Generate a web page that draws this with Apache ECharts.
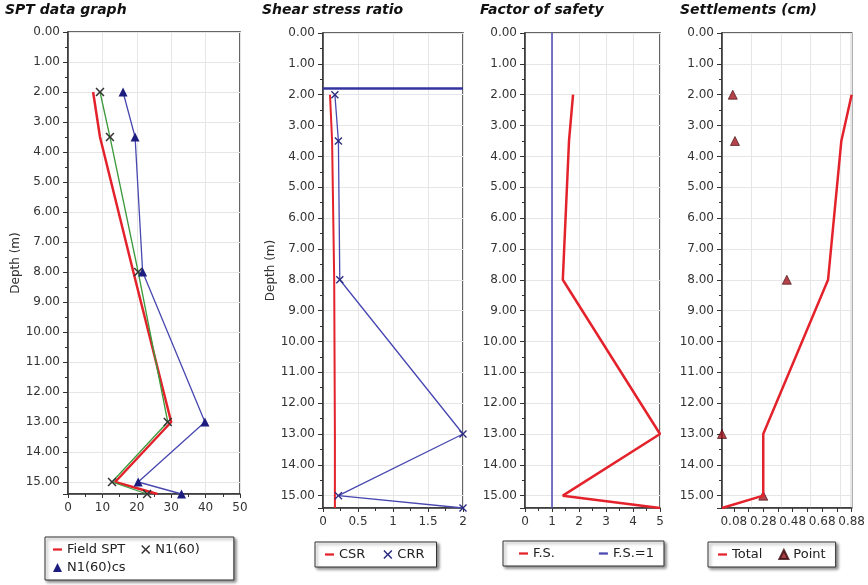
<!DOCTYPE html>
<html>
<head>
<meta charset="utf-8">
<script src="https://cdn.jsdelivr.net/npm/echarts@6/dist/echarts.min.js"></script>
<style>
  html, body { margin: 0; padding: 0; background: #fff; }
  #main { width: 868px; height: 585px; }
</style>
</head>
<body>
<div id="main"></div>
<script>
// depths of the readings (m), last one is the bottom of the profile
const depth = [2, 3.5, 8, 13, 15, 15.4]
const maxDepth = 15.4

// SPT data graph
const fieldSpt = [7.3, 9.3, 19, 30, 13.7, 26]
const n160 = [9.3, 12.2, 20.4, 29, 12.8, 23]
const n160cs = [16, 19.5, 21.7, 39.8, 20.4, 33]

// Shear stress ratio
const csr = [0.1, 0.13, 0.16, 0.17, 0.17, 0.17]
const crr = [0.17, 0.22, 0.24, 2, 0.22, 2]
const waterTable = 1.8

// Factor of safety
const fs = [1.78, 1.63, 1.4, 5, 1.4, 5]
const fsOneDepth = [0, 15.4]
const fsOne = [1, 1]

// Settlements (cm)
const totalSettle = [0.88, 0.81, 0.72, 0.28, 0.28, 0]
const pointDepth = [2, 3.5, 8, 13, 15]
const pointSettle = [0.073, 0.088, 0.44, 0, 0.28]
const settleLabels = [0.08, 0.28, 0.48, 0.68, 0.88]
const settleTicks = [0.08, 0.18, 0.28, 0.38, 0.48, 0.58, 0.68, 0.78, 0.88]

const zip = (xs, ys) => xs.map((x, i) => [x, ys[i]])

const FONT = 'DejaVu Sans'
const RED = '#e3222b'
const BLUE = '#4848b0'
const XMARK = 'path://M0,1.2L1.2,0L5,3.8L8.8,0L10,1.2L6.2,5L10,8.8L8.8,10L5,6.2L1.2,10L0,8.8L3.8,5Z'

const grids = [
  { left: 68, width: 172, top: 32, height: 462 },
  { left: 323, width: 140, top: 33, height: 475 },
  { left: 525, width: 135, top: 33, height: 475 },
  { left: 722, width: 130, top: 33, height: 475 }
].map(g => Object.assign(g, { show: true, borderColor: '#333', borderWidth: 1.5, backgroundColor: '#fff' }))

function yAxis (i, name) {
  return {
    gridIndex: i, type: 'value', inverse: true, min: 0, max: maxDepth, interval: 1,
    axisLine: { show: true, lineStyle: { color: '#333', width: 1.5 } },
    axisTick: { show: true, length: 5, lineStyle: { color: '#333' } },
    minorTick: { show: true, splitNumber: 2, length: 3, lineStyle: { color: '#333' } },
    axisLabel: { formatter: v => v.toFixed(2), color: '#333', fontSize: 12, fontFamily: FONT, showMaxLabel: false },
    splitLine: { show: true, lineStyle: { color: '#e6e6e6' } },
    name: name || '', nameLocation: 'middle', nameGap: 46,
    nameTextStyle: { color: '#333', fontSize: 12, fontFamily: FONT }
  }
}

function xAxis (i, max, interval, extra) {
  return Object.assign({
    gridIndex: i, type: 'value', min: 0, max: max, interval: interval, position: 'bottom',
    axisLine: { show: true, onZero: false, lineStyle: { color: '#333', width: 1.5 } },
    axisTick: { show: true, length: 4, lineStyle: { color: '#333' } },
    minorTick: { show: true, splitNumber: 2, length: 3, lineStyle: { color: '#333' } },
    axisLabel: { color: '#333', fontSize: 12, fontFamily: FONT },
    splitLine: { show: true, lineStyle: { color: '#e6e6e6' } }
  }, extra || {})
}

function title (text, left) {
  return {
    text: text, left: left, top: 3, padding: 0,
    textStyle: { fontSize: 14, fontWeight: 'bold', fontStyle: 'italic', fontFamily: FONT, color: '#111' }
  }
}

function legend (left, top, items, extra) {
  return Object.assign({
    left: left, top: top, orient: 'horizontal', itemWidth: 9, itemHeight: 9, itemGap: 20,
    backgroundColor: '#fff', borderColor: '#333', borderWidth: 1, borderRadius: 0,
    shadowColor: 'rgba(0,0,0,0.45)', shadowBlur: 3, shadowOffsetX: 2, shadowOffsetY: 2,
    padding: [7, 10, 7, 10], selectedMode: false,
    textStyle: { fontSize: 13, fontFamily: FONT, color: '#222' },
    data: items
  }, extra || {})
}

const lineIcon = (name, color) => ({ name: name, icon: 'path://M0,4L10,4L10,6.5L0,6.5Z', itemStyle: { color: color } })

const chart = echarts.init(document.getElementById('main'))
chart.setOption({
  animation: false,
  title: [
    title('SPT data graph', 5),
    title('Shear stress ratio', 262),
    title('Factor of safety', 480),
    title('Settlements (cm)', 680)
  ],
  grid: grids,
  xAxis: [
    xAxis(0, 50, 10),
    xAxis(1, 2, 0.5),
    xAxis(2, 5, 1),
    xAxis(3, 0.88, 0.2, {
      axisLabel: { color: '#333', fontSize: 12, fontFamily: FONT, customValues: settleLabels, formatter: v => v.toFixed(2) },
      axisTick: { show: true, length: 4, customValues: settleTicks, lineStyle: { color: '#333' } },
      minorTick: { show: false },
      splitLine: { show: false }
    }),
    // split lines of the settlement panel sit on multiples of 0.2
    xAxis(3, 0.88, 0.2, {
      axisLine: { show: false }, axisTick: { show: false }, minorTick: { show: false },
      axisLabel: { show: false }
    })
  ],
  yAxis: [
    yAxis(0, 'Depth (m)'),
    yAxis(1, 'Depth (m)'),
    yAxis(2),
    yAxis(3)
  ],
  legend: [
    legend(45, 537, [
      lineIcon('Field SPT', RED),
      { name: 'N1(60)', icon: XMARK, itemStyle: { color: '#333' } }
    ], { padding: [6, 34, 24, 8], itemGap: 16 }),
    legend(45, 561, [
      { name: 'N1(60)cs', icon: 'triangle', itemStyle: { color: '#1d1d80' } }
    ], { backgroundColor: 'transparent', borderWidth: 0, shadowBlur: 0, shadowOffsetX: 0, shadowOffsetY: 0, padding: [0, 0, 0, 8] }),
    legend(315, 542, [
      lineIcon('CSR', RED),
      { name: 'CRR', icon: XMARK, itemStyle: { color: '#2a2a80' } }
    ], { padding: [6, 12, 6, 10], itemGap: 18 }),
    legend(503, 541, [
      lineIcon('F.S.', RED),
      lineIcon('F.S.=1', BLUE)
    ], { padding: [6, 10, 6, 16], itemGap: 44 }),
    legend(708, 542, [
      lineIcon('Total', RED),
      { name: 'Point', icon: 'triangle', itemStyle: { color: '#8a1018' } }
    ], { padding: [6, 10, 6, 10], itemGap: 16 })
  ],
  series: [
    {
      name: 'Field SPT', type: 'line', xAxisIndex: 0, yAxisIndex: 0,
      data: zip(fieldSpt, depth), symbol: 'none',
      lineStyle: { color: RED, width: 2.5 }, itemStyle: { color: RED }
    },
    {
      name: 'N1(60)', type: 'line', xAxisIndex: 0, yAxisIndex: 0,
      data: zip(n160, depth), symbol: XMARK, symbolSize: 9,
      lineStyle: { color: '#3c9a3c', width: 1.3 }, itemStyle: { color: '#333' }
    },
    {
      name: 'N1(60)cs', type: 'line', xAxisIndex: 0, yAxisIndex: 0,
      data: zip(n160cs, depth), symbol: 'triangle', symbolSize: 9,
      lineStyle: { color: BLUE, width: 1.3 }, itemStyle: { color: '#1d1d80' }
    },
    {
      name: 'CSR', type: 'line', xAxisIndex: 1, yAxisIndex: 1,
      data: zip(csr, depth), symbol: 'none',
      lineStyle: { color: RED, width: 2 }, itemStyle: { color: RED }
    },
    {
      name: 'CRR', type: 'line', xAxisIndex: 1, yAxisIndex: 1,
      data: zip(crr, depth), symbol: XMARK, symbolSize: 8,
      lineStyle: { color: BLUE, width: 1.3 }, itemStyle: { color: '#2a2a80' },
      markLine: {
        silent: true, symbol: 'none', label: { show: false },
        lineStyle: { color: '#3434a0', width: 2.5, type: 'solid' },
        data: [{ yAxis: waterTable }]
      }
    },
    {
      name: 'F.S.', type: 'line', xAxisIndex: 2, yAxisIndex: 2,
      data: zip(fs, depth), symbol: 'none',
      lineStyle: { color: RED, width: 2.5 }, itemStyle: { color: RED }
    },
    {
      name: 'F.S.=1', type: 'line', xAxisIndex: 2, yAxisIndex: 2,
      data: zip(fsOne, fsOneDepth), symbol: 'none',
      lineStyle: { color: BLUE, width: 1.5 }, itemStyle: { color: BLUE }
    },
    {
      name: 'Total', type: 'line', xAxisIndex: 3, yAxisIndex: 3,
      data: zip(totalSettle, depth), symbol: 'none',
      lineStyle: { color: RED, width: 2.5 }, itemStyle: { color: RED }
    },
    {
      name: 'Point', type: 'scatter', xAxisIndex: 3, yAxisIndex: 3,
      data: zip(pointSettle, pointDepth), symbol: 'triangle', symbolSize: 9,
      itemStyle: { color: '#a3141e', borderColor: '#3a0608', borderWidth: 0.8 }
    }
  ]
})
</script>
</body>
</html>
